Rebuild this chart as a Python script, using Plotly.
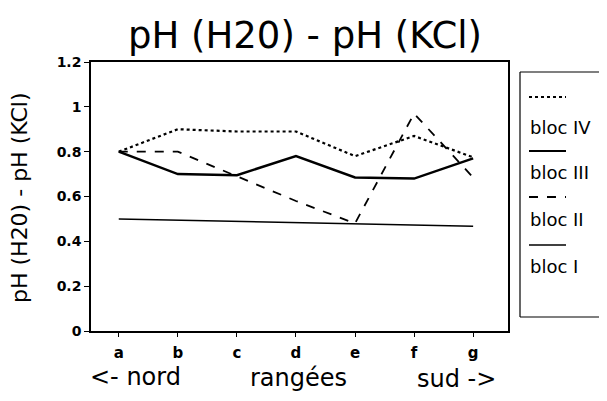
import plotly.graph_objects as go

categories = ["a", "b", "c", "d", "e", "f", "g"]
bloc_IV = [0.80, 0.90, 0.89, 0.89, 0.78, 0.87, 0.775]
bloc_III = [0.80, 0.70, 0.695, 0.78, 0.685, 0.68, 0.77]
bloc_II = [0.80, 0.80, 0.69, 0.58, 0.48, 0.97, 0.685]
bloc_I = [0.50, 0.495, 0.49, 0.485, 0.48, 0.475, 0.467]
y_ticks = [0, 0.2, 0.4, 0.6, 0.8, 1, 1.2]
y_ticklabels = ["0", "0.2", "0.4", "0.6", "0.8", "1", "1.2"]

# window is 607x401; the page body adds an 8px margin around the figure
OFF = 8
W, H = 607 - OFF, 401 - 2 * OFF
# plot area in window pixels: x 91..508, y 62..331
L = 91 - OFF
R = W - (508 - OFF)
T = 62 - OFF
B = H - (331 - OFF)

FONT = "DejaVu Sans, Verdana, sans-serif"

series = [
    ("bloc IV", bloc_IV, "dot", 2.2),
    ("bloc III", bloc_III, "solid", 2.5),
    ("bloc II", bloc_II, "dash", 1.8),
    ("bloc I", bloc_I, "solid", 1.5),
]

fig = go.Figure()
xs = list(range(len(categories)))
for name, vals, dash, w in series:
    fig.add_trace(go.Scatter(x=xs, y=vals, mode="lines", name=name,
                             line=dict(color="black", dash=dash, width=w),
                             showlegend=False))

fig.update_layout(
    width=W, height=H,
    margin=dict(l=L, r=R, t=T, b=B, pad=0, autoexpand=False),
    paper_bgcolor="white", plot_bgcolor="white",
    font=dict(family=FONT, color="black"),
    xaxis=dict(range=[-0.47, 6.59], tickmode="array", tickvals=xs, ticktext=categories,
               showgrid=False, zeroline=False, showline=True, linecolor="black", linewidth=1.5,
               mirror=True, ticks="outside", ticklen=4, tickcolor="black",
               ticklabelstandoff=3,
               tickfont=dict(size=15, family=FONT, weight="bold")),
    yaxis=dict(range=[0, 1.2], tickmode="array", tickvals=y_ticks, ticktext=y_ticklabels,
               showgrid=False, zeroline=False, showline=True, linecolor="black", linewidth=1.5,
               mirror=True, ticks="outside", ticklen=5, tickcolor="black",
               tickfont=dict(size=14, family=FONT, weight="bold")),
)

PW = W - L - R
PH = H - T - B

def px(x):
    # window pixel -> paper fraction
    return (x - OFF - L) / PW

def py(y):
    return (H - B - (y - OFF)) / PH

annotations = [
    dict(text="pH (H20) - pH (KCl)", x=px(305), y=py(36), font=dict(size=37)),
    dict(text="pH (H20) - pH (KCl)", x=px(19), y=py(198), font=dict(size=22), textangle=-90),
    dict(text="&lt;- nord", x=px(135), y=py(377), font=dict(size=24)),
    dict(text="rangées", x=px(298), y=py(378), font=dict(size=24)),
    dict(text="sud -&gt;", x=px(456), y=py(379), font=dict(size=24)),
]

box = dict(xref="paper", yref="paper", type="line", line=dict(color="black", width=1.2))
shapes = [
    dict(box, x0=px(520), x1=px(520), y0=py(317), y1=py(72)),
    dict(box, x0=px(520), x1=px(620), y0=py(72), y1=py(72)),
    dict(box, x0=px(520), x1=px(620), y0=py(317), y1=py(317)),
]

legend_line_y = [97, 151, 197, 245]
legend_text_y = [127, 172, 219, 266]
for (name, vals, dash, w), ly, ty in zip(series, legend_line_y, legend_text_y):
    shapes.append(dict(type="line", xref="paper", yref="paper", x0=px(529), x1=px(566),
                       y0=py(ly), y1=py(ly), line=dict(color="black", dash=dash, width=min(w, 2))))
    annotations.append(dict(text=name, x=px(528), y=py(ty), xanchor="left",
                            font=dict(size=18)))

for a in annotations:
    a.setdefault("xref", "paper")
    a.setdefault("yref", "paper")
    a.setdefault("showarrow", False)
    a.setdefault("xanchor", "center")
    a.setdefault("yanchor", "middle")

fig.update_layout(annotations=annotations, shapes=shapes)
fig.write_html("out.html")
